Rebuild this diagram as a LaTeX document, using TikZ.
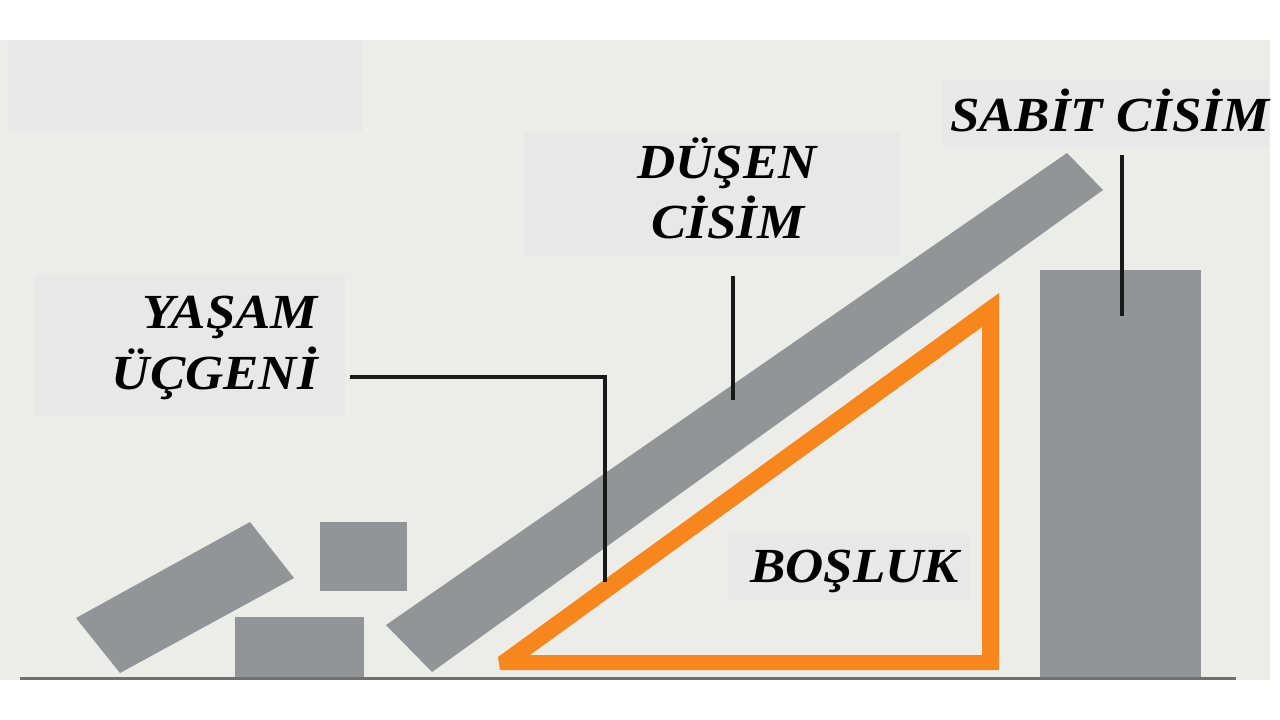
\documentclass[tikz,border=0pt]{standalone}
\usepackage{fontspec}
\setmainfont{Liberation Serif}
\newfontfamily\lblfont[FakeStretch=1.08]{Liberation Serif}
\definecolor{bgc}{HTML}{ECEDE9}
\definecolor{boxc}{HTML}{E7E8E7}
\definecolor{slabc}{HTML}{939498}
\definecolor{orangec}{HTML}{F7861C}
\definecolor{groundc}{HTML}{707070}
\begin{document}
\begin{tikzpicture}[x=1pt,y=-1pt,
  lbl/.style={inner sep=0pt,font=\lblfont\fontsize{49}{49}\selectfont\bfseries\itshape,text=black},
  leader/.style={draw=black!90,line width=4pt},
  debris/.style={fill=slabc,draw=none}]
\useasboundingbox (0,0) rectangle (1280,720);
\fill[white] (0,0) rectangle (1280,720);
\fill[bgc] (0,40) rectangle (1270,680);
% faint label boxes
\fill[boxc] (8,40) rectangle (363,132);
\fill[boxc] (524,132) rectangle (900,257);
\fill[boxc] (35,275) rectangle (345,415);
\fill[boxc] (942,80) rectangle (1270,148);
\fill[boxc] (728,533) rectangle (970,600);
% debris
\fill[debris] (76,618) -- (250,522) -- (294,578) -- (120,673) -- cycle;
\fill[debris] (320,522) rectangle (407,591);
\fill[debris] (235,617) rectangle (364,678);
% falling slab
\fill[debris] (386,625) -- (1067,153) -- (1103,190) -- (432,672) -- cycle;
% fixed body
\fill[debris] (1040,270) rectangle (1201,678);
% orange triangle (void)
\fill[orangec,even odd rule] (498,657) -- (999,293) -- (999,670) -- (500,670) -- cycle
  (530,655) -- (982,327) -- (982,655) -- cycle;
% ground line
\draw[groundc,line width=3pt] (20,678) -- (1236,678);
% labels
\node[lbl,anchor=base west] (sabit) at (950,131) {SABİT CİSİM};
\node[lbl,anchor=base] (dusen1) at (727,178) {DÜŞEN};
\node[lbl,anchor=base] (dusen2) at (728,238) {CİSİM};
\node[lbl,anchor=base east] (yasam1) at (318,328) {YAŞAM};
\node[lbl,anchor=base east] (yasam2) at (318,389) {ÜÇGENİ};
\node[lbl,anchor=base west] (bosluk) at (750,582) {BOŞLUK};
% leader lines
\coordinate (yA) at (350,377);
\coordinate (yB) at (605,377);
\coordinate (yC) at (605,582);
\draw[leader] (yA) -- (yB) -- (yC);
\coordinate (dA) at (733,276);
\coordinate (dB) at (733,400);
\draw[leader] (dA) -- (dB);
\coordinate (sA) at (1122,155);
\coordinate (sB) at (1122,316);
\draw[leader] (sA) -- (sB);
\end{tikzpicture}
\end{document}
